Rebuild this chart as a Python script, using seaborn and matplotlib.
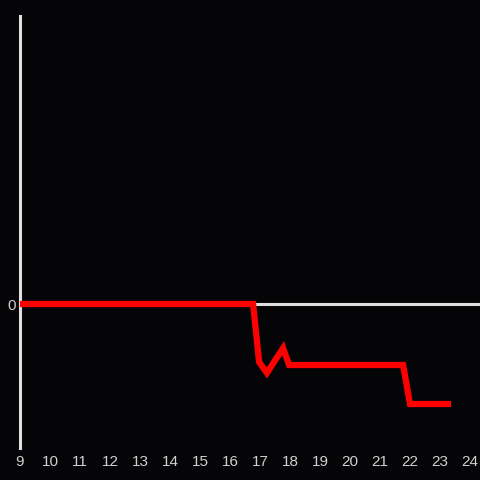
import matplotlib
matplotlib.use("Agg")
import matplotlib.pyplot as plt
import seaborn as sns
import pandas as pd

# hours and values
hours = [9.0, 16.77, 16.97, 17.23, 17.77, 17.97, 21.77, 22.0, 23.37]
values = [0.0, 0.0, -0.58, -0.69, -0.44, -0.61, -0.61, -1.0, -1.0]
x_ticks = list(range(9, 25))

df = pd.DataFrame({"hour": hours, "value": values})

sns.set_style("dark")
plt.rcParams['font.family'] = ['Liberation Sans', 'DejaVu Sans']

bg = "#050507"
fig = plt.figure(figsize=(4.8, 4.8), dpi=100, facecolor=bg)
ax = fig.add_axes([20 / 480, 32 / 480, 460 / 480, 432 / 480])
ax.set_facecolor(bg)

ax.axhline(0, color="#e0e0e0", lw=2.2, zorder=1)
sns.lineplot(data=df, x="hour", y="value", color="#ff0000", lw=4.5,
             ax=ax, zorder=3, solid_joinstyle="miter", solid_capstyle="butt")

ax.set_xlim(9, 24.333)
ax.set_ylim(-1.44, 2.88)
ax.set_xticks(x_ticks)
ax.set_yticks([0])
ax.set_xlabel("")
ax.set_ylabel("")
ax.grid(False)

for side in ["top", "right", "bottom"]:
    ax.spines[side].set_visible(False)
ax.spines["left"].set_color("#e0e0e0")
ax.spines["left"].set_linewidth(2.2)

ax.tick_params(axis="both", length=0, colors="#d0d0d0", labelsize=11)
ax.tick_params(axis="x", pad=5)
ax.tick_params(axis="y", pad=3)

fig.savefig("out.png", dpi=100, facecolor=bg)
